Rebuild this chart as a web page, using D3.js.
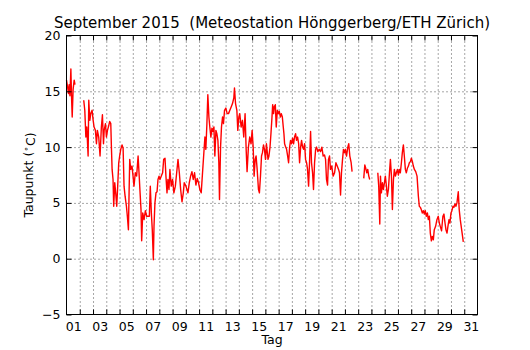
<!DOCTYPE html>
<meta charset="utf-8">
<head>
  <title>Taupunkt September 2015</title>
</head>

<style>
body { margin: 0; background: #fff; }
text { font-family: "DejaVu Sans", sans-serif; fill: #000; }
.grid line { stroke: #000; stroke-width: 0.7; stroke-dasharray: 1,3; }
.grid path, .ticks path, .labels path { display: none; }
.ticks line { stroke: #000; stroke-width: 1; }
.labels text { font-size: 12.5px; }
</style>

<body>
<svg id="chart" width="530" height="350"></svg>

<script src="https://cdnjs.cloudflare.com/ajax/libs/d3/7.8.5/d3.min.js"></script>
<script type="text/javascript">
// Tage seit 1. September 00:00, null = Messluecke
var tage = [
  0.00, 0.08, 0.15, 0.20, 0.26, 0.33, 0.38, 0.43, 0.50, 0.58, 0.64, 0.90,
  1.30, 1.38, 1.46, 1.53, 1.63, 1.68, 1.76, 1.83, 1.93, 2.01, 2.08, 2.18, 2.26, 2.33, 2.43, 2.53, 2.63, 2.71, 2.79, 2.84, 2.94,
  3.01, 3.09, 3.16, 3.26, 3.34, 3.39, 3.44, 3.51, 3.56, 3.64, 3.71, 3.79, 3.86, 3.94,
  4.01, 4.09, 4.19, 4.27, 4.34, 4.42, 4.52, 4.59, 4.67, 4.72, 4.77, 4.84, 4.94,
  5.02, 5.09, 5.19, 5.29, 5.40, 5.47, 5.55, 5.62, 5.67, 5.75, 5.85, 5.95,
  6.05, 6.15, 6.25, 6.32, 6.40, 6.47, 6.55, 6.60, 6.67, 6.75, 6.83, 6.90, 6.98,
  7.05, 7.15, 7.25, 7.33, 7.43, 7.50, 7.58, 7.65, 7.73, 7.80, 7.90,
  8.00, 8.10, 8.21, 8.31, 8.41, 8.51, 8.61, 8.71, 8.81, 8.88,
  9.01, 9.16, 9.26, 9.36, 9.46, 9.56, 9.66, 9.76, 9.86, 9.96,
  10.06, 10.16, 10.26, 10.36, 10.44, 10.51, 10.59, 10.66, 10.74, 10.81, 10.89, 10.97,
  11.04, 11.12, 11.19, 11.27, 11.34, 11.42, 11.49, 11.54, 11.62, 11.69, 11.77, 11.84, 11.92,
  12.02, 12.12, 12.22, 12.32, 12.42, 12.52, 12.62, 12.67, 12.75, 12.85, 12.92,
  13.00, 13.07, 13.17, 13.27, 13.37, 13.47, 13.55, 13.62, 13.72, 13.82, 13.92,
  14.00, 14.08, 14.15, 14.23, 14.30, 14.38, 14.48, 14.55, 14.63, 14.71, 14.78, 14.86, 14.93,
  15.01, 15.08, 15.20, 15.27, 15.35, 15.42, 15.50, 15.55, 15.62, 15.67, 15.75, 15.82, 15.90, 15.97,
  16.05, 16.13, 16.20, 16.28, 16.35, 16.40, 16.45, 16.53, 16.60, 16.68, 16.75, 16.83, 16.90, 16.98,
  17.05, 17.13, 17.20, 17.28, 17.35, 17.43, 17.51, 17.58, 17.66, 17.73, 17.81, 17.88, 17.96,
  18.03, 18.11, 18.18, 18.26, 18.33, 18.41, 18.48, 18.56, 18.63, 18.71, 18.79, 18.86, 18.96,
  19.06, 19.16, 19.26, 19.36, 19.46, 19.54, 19.61, 19.69, 19.76, 19.84, 19.91,
  20.01, 20.11, 20.22, 20.32, 20.42, 20.52, 20.59, 20.67, 20.74, 20.82, 20.89, 20.97,
  21.04, 21.12, 21.22, 21.29, 21.37, 21.47, 21.54, 22.00,
  22.42, 22.50, 22.57, 22.65, 22.72, 22.80, 22.87, 23.20,
  23.48, 23.55, 23.63, 23.68, 23.75, 23.83, 23.90, 23.98,
  24.05, 24.13, 24.20, 24.28, 24.36, 24.43, 24.51, 24.58, 24.66, 24.73, 24.81, 24.88, 24.96,
  25.03, 25.11, 25.18, 25.26, 25.33, 25.41, 25.48, 25.56, 25.63, 25.71, 25.79, 25.86, 25.94,
  26.01, 26.09, 26.16, 26.24, 26.34, 26.44, 26.54, 26.61, 26.69, 26.76, 26.84, 26.91, 26.99,
  27.06, 27.14, 27.22, 27.29, 27.37, 27.44, 27.52, 27.59, 27.67, 27.74, 27.84, 27.94,
  28.04, 28.12, 28.19, 28.29, 28.39, 28.47, 28.55, 28.62, 28.70, 28.77, 28.85, 28.92,
  29.00, 29.07, 29.15, 29.22, 29.30, 29.37, 29.45, 29.55, 29.62, 29.70, 29.77, 29.85, 29.93
];

// Taupunkt in Grad Celsius
var taupunkt = [
  16.0, 15.4, 14.8, 15.6, 14.6, 17.0, 14.5, 12.7, 15.2, 16.0, 15.6, null,
  14.2, 13.3, 10.9, 11.8, 9.2, 14.2, 12.4, 13.0, 13.3, 12.4, 11.8, 11.5, 10.3, 11.5, 10.9, 9.2, 11.8, 12.9, 10.3, 11.5, 12.1,
  10.9, 11.5, 11.8, 12.3, 12.1, 9.9, 8.0, 7.1, 4.7, 6.8, 5.9, 4.7, 6.5, 8.6,
  9.2, 9.8, 10.2, 9.9, 6.5, 5.6, 4.7, 3.8, 2.6, 5.9, 8.9, 8.0, 8.3,
  7.4, 6.5, 7.7, 7.4, 9.2, 7.7, 5.9, 4.4, 1.6, 4.1, 3.5, 4.3,
  3.8, 3.8, 3.8, 6.5, 4.1, 2.6, -0.1, 2.9, 5.0, 5.9, 6.0, 7.1, 7.4,
  7.1, 7.4, 7.7, 8.9, 9.0, 7.4, 5.9, 7.1, 6.2, 8.0, 6.5,
  7.1, 5.9, 6.5, 7.7, 8.9, 7.7, 6.2, 5.1, 5.9, 6.8,
  6.5, 5.9, 6.8, 7.4, 7.8, 7.1, 7.7, 6.6, 7.2, 6.8,
  6.2, 5.9, 7.7, 9.5, 10.9, 9.8, 12.1, 14.7, 12.7, 11.8, 10.9, 11.7,
  11.4, 11.8, 9.2, 11.5, 11.2, 10.6, 8.6, 5.3, 10.0, 11.8, 12.7, 12.1, 13.3,
  13.5, 13.0, 13.0, 13.3, 13.6, 13.9, 14.4, 15.3, 13.9, 13.3, 11.5,
  12.7, 13.0, 11.8, 12.4, 10.9, 13.0, 9.8, 7.8, 10.0, 10.9, 10.3,
  11.5, 10.0, 7.4, 8.9, 9.2, 8.0, 6.2, 5.9, 7.4, 9.2, 9.5, 10.2, 9.8,
  8.9, 10.3, 8.9, 9.2, 10.0, 11.2, 12.7, 13.8, 13.0, 13.6, 13.8, 11.8, 13.3, 13.0,
  13.2, 12.7, 13.0, 12.7, 11.8, 11.2, 10.3, 10.0, 9.8, 9.2, 8.6, 10.0, 10.6, 10.3,
  10.8, 10.3, 10.9, 11.2, 10.6, 10.9, 10.3, 8.6, 10.0, 10.6, 10.0, 9.8, 10.3,
  8.9, 8.6, 8.0, 6.5, 8.6, 11.4, 8.6, 7.7, 6.2, 8.6, 9.8, 10.0, 9.6,
  9.8, 9.6, 10.0, 9.2, 9.3, 8.9, 7.1, 6.6, 8.9, 9.2, 8.0,
  8.3, 7.4, 7.7, 8.6, 8.3, 8.0, 7.7, 5.7, 7.7, 8.9, 9.8, 9.5,
  9.8, 9.2, 10.0, 10.3, 9.2, 8.6, 7.8, null,
  7.2, 8.4, 8.1, 7.7, 8.0, 7.4, 7.1, null,
  7.7, 6.5, 3.1, 7.4, 5.9, 6.8, 6.2, 6.8,
  7.4, 6.5, 5.6, 6.2, 7.7, 8.9, 7.4, 4.4, 7.1, 8.0, 7.4, 7.7, 8.0,
  7.5, 8.0, 7.7, 8.6, 9.5, 10.2, 9.2, 8.0, 7.7, 8.1, 8.3, 8.6, 8.7,
  9.0, 8.7, 8.3, 8.0, 7.8, 7.4, 5.6, 4.7, 4.6, 4.4, 4.1, 4.3, 4.0,
  4.3, 3.8, 4.1, 3.5, 3.8, 2.3, 1.6, 2.0, 1.7, 2.6, 2.9, 3.5,
  3.8, 3.2, 2.9, 2.5, 3.8, 4.0, 3.2, 2.6, 2.3, 2.9, 3.5, 3.2,
  4.1, 4.3, 4.7, 4.6, 4.9, 4.7, 5.0, 6.0, 4.4, 3.5, 2.9, 2.2, 1.5
];

var tagLabels = ["01", "03", "05", "07", "09", "11", "13", "15", "17", "19", "21", "23", "25", "27", "29", "31"];
var yTicks = [-5, 0, 5, 10, 15, 20];
var yGrid = [0, 5, 10, 15];

var pLeft = 66.5, pRight = 477.5, pTop = 35.5, pBottom = 314.5;

var svg = d3.select("#chart");

var x = d3.scaleLinear().domain([0, 31]).range([pLeft, pRight]);
var y = d3.scaleLinear().domain([-5, 20]).range([pBottom, pTop]);

var dayTicks = d3.range(1, 31);

// Gitter
svg.append("g").attr("class", "grid")
  .attr("transform", "translate(0," + pBottom + ")")
  .call(d3.axisBottom(x).tickValues(dayTicks).tickSize(-(pBottom - pTop)).tickFormat(""));
svg.append("g").attr("class", "grid")
  .attr("transform", "translate(" + pLeft + ",0)")
  .call(d3.axisLeft(y).tickValues(yGrid).tickSize(-(pRight - pLeft)).tickFormat(""));

// Messkurve
var data = tage.map(function(t, i) { return {t: t, v: taupunkt[i]}; });
var line = d3.line()
  .defined(function(d) { return d.v !== null; })
  .x(function(d) { return x(d.t); })
  .y(function(d) { return y(d.v); });

svg.append("path")
  .datum(data)
  .attr("d", line)
  .attr("fill", "none")
  .attr("stroke", "#ff0000")
  .attr("stroke-width", 1.4)
  .attr("stroke-linejoin", "round");

// Ticks nach innen, auf allen vier Seiten
svg.append("g").attr("class", "ticks")
  .attr("transform", "translate(0," + pBottom + ")")
  .call(d3.axisBottom(x).tickValues(dayTicks).tickSize(-5).tickFormat(""));
svg.append("g").attr("class", "ticks")
  .attr("transform", "translate(0," + pTop + ")")
  .call(d3.axisTop(x).tickValues(dayTicks).tickSize(-5).tickFormat(""));
svg.append("g").attr("class", "ticks")
  .attr("transform", "translate(" + pLeft + ",0)")
  .call(d3.axisLeft(y).tickValues(yTicks).tickSize(-5).tickFormat(""));
svg.append("g").attr("class", "ticks")
  .attr("transform", "translate(" + pRight + ",0)")
  .call(d3.axisRight(y).tickValues(yTicks).tickSize(-5).tickFormat(""));

// Beschriftungen
svg.append("g").attr("class", "labels")
  .attr("transform", "translate(0," + pBottom + ")")
  .call(d3.axisBottom(x).tickValues(d3.range(0.5, 31, 2)).tickSize(0).tickPadding(7.5)
    .tickFormat(function(d, i) { return tagLabels[i]; }));
svg.append("g").attr("class", "labels")
  .attr("transform", "translate(" + pLeft + ",0)")
  .call(d3.axisLeft(y).tickValues(yTicks).tickSize(0).tickPadding(6));
svg.selectAll(".labels .tick line").remove();

svg.append("rect")
  .attr("x", pLeft).attr("y", pTop)
  .attr("width", pRight - pLeft).attr("height", pBottom - pTop)
  .attr("fill", "none").attr("stroke", "#000").attr("stroke-width", 1);

svg.append("text")
  .attr("x", (pLeft + pRight) / 2).attr("y", 28)
  .attr("text-anchor", "middle")
  .style("font-size", "15px")
  .style("white-space", "pre")
  .text("September 2015  (Meteostation Hönggerberg/ETH Zürich)");

svg.append("text")
  .attr("x", (pLeft + pRight) / 2).attr("y", 344)
  .attr("text-anchor", "middle")
  .style("font-size", "12.5px")
  .text("Tag");

var ylab = svg.append("text")
  .attr("transform", "translate(33," + (pTop + pBottom) / 2 + ") rotate(-90)")
  .attr("text-anchor", "middle")
  .style("font-size", "12.5px");
ylab.append("tspan").text("Taupunkt (");
ylab.append("tspan").attr("dy", "-0.45em").style("font-size", "9px").text("∘");
ylab.append("tspan").attr("dy", "0.45em").text("C)");
</script>
</body>
</html>
